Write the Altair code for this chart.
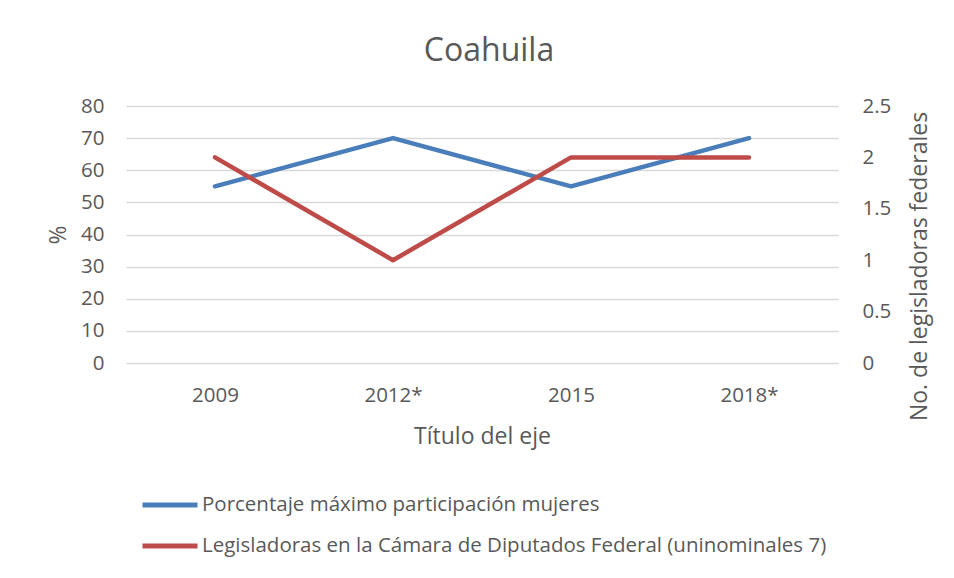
import altair as alt
import pandas as pd

years = ["2009", "2012*", "2015", "2018*"]
pct_max = [55, 70, 55, 70]
legisladoras = [2, 1, 2, 2]

s1 = "Porcentaje máximo participación mujeres"
s2 = "Legisladoras en la Cámara de Diputados Federal (uninominales 7)"

df = pd.DataFrame({"year": years, "pct": pct_max, "leg": legisladoras})

FONT = "Open Sans"
TXT = "#595959"
GRID = "#D9D9D9"

color = alt.Color(
    "serie:N",
    scale=alt.Scale(domain=[s1, s2], range=["#4A7EBB", "#BE4B48"]),
    legend=alt.Legend(
        title=None,
        orient="none",
        legendX=14,
        legendY=369,
        direction="vertical",
        symbolType="stroke",
        symbolSize=3025,
        symbolStrokeWidth=5,
        labelFont=FONT,
        labelFontSize=20.5,
        labelColor=TXT,
        labelOffset=2,
        rowPadding=-10,
        labelLimit=900,
    ),
)

x = alt.X(
    "year:N",
    sort=years,
    title="Título del eje",
    axis=alt.Axis(
        labelAngle=0,
        domain=False,
        ticks=False,
        grid=False,
        labelPadding=22,
        titlePadding=20,
        labelFont=FONT,
        labelFontSize=20.5,
        labelColor=TXT,
        titleFont=FONT,
        titleFontSize=23,
        titleFontWeight="normal",
        titleColor=TXT,
    ),
)

blue = (
    alt.Chart(df)
    .transform_calculate(serie=f"'{s1}'")
    .mark_line(strokeWidth=4.5, strokeCap="round", strokeJoin="round")
    .encode(
        x=x,
        y=alt.Y(
            "pct:Q",
            title="%",
            scale=alt.Scale(domain=[0, 80], nice=False),
            axis=alt.Axis(
                orient="left",
                values=[0, 10, 20, 30, 40, 50, 60, 70, 80],
                domain=False,
                ticks=False,
                grid=True,
                gridColor=GRID,
                gridWidth=1.5,
                labelPadding=22,
                titlePadding=10,
                labelFont=FONT,
                labelFontSize=20.5,
                labelColor=TXT,
                titleFont=FONT,
                titleFontSize=23,
                titleFontWeight="normal",
                titleColor=TXT,
            ),
        ),
        color=color,
    )
)

red = (
    alt.Chart(df)
    .transform_calculate(serie=f"'{s2}'")
    .mark_line(strokeWidth=4.5, strokeCap="round", strokeJoin="round")
    .encode(
        x=x,
        y=alt.Y(
            "leg:Q",
            title="No. de legisladoras federales",
            scale=alt.Scale(domain=[0, 2.5], nice=False),
            axis=alt.Axis(
                orient="right",
                values=[0, 0.5, 1, 1.5, 2, 2.5],
                format="~g",
                domain=False,
                ticks=False,
                grid=False,
                labelPadding=24,
                titleAngle=270,
                titleX=81,
                titleY=160,
                titleAlign="center",
                titleBaseline="middle",
                labelFont=FONT,
                labelFontSize=20.5,
                labelColor=TXT,
                titleFont=FONT,
                titleFontSize=23,
                titleFontWeight="normal",
                titleColor=TXT,
            ),
        ),
        color=color,
    )
)

chart = (
    alt.layer(blue, red)
    .resolve_scale(y="independent")
    .properties(
        width=712,
        height=257,
        title=alt.TitleParams(
            "Coahuila",
            font=FONT,
            fontSize=32,
            fontWeight="normal",
            color=TXT,
            anchor="middle",
            offset=28,
            dx=7,
        ),
        autosize=alt.AutoSizeParams(type="none"),
        padding={"left": 118, "top": 98, "right": 108, "bottom": 207},
    )
    .configure(background="white")
    .configure_view(stroke=None)
)

chart.save("out.html", embed_options={"renderer": "svg", "actions": False})
